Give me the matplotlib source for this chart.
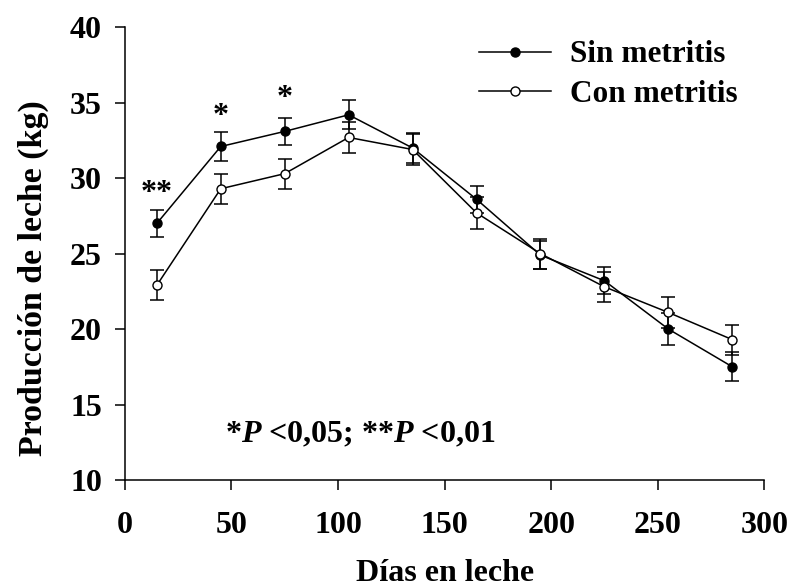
import matplotlib
matplotlib.use("Agg")
import matplotlib.pyplot as plt

plt.rcParams['font.family'] = ['Liberation Serif', 'DejaVu Serif']
plt.rcParams['font.weight'] = 'bold'
plt.rcParams['mathtext.fontset'] = 'custom'
plt.rcParams['mathtext.rm'] = 'Liberation Serif:bold'
plt.rcParams['mathtext.it'] = 'Liberation Serif:italic:bold'

# days in milk
dias = [15, 45, 75, 105, 135, 165, 195, 225, 255, 285]
# milk yield, kg
sin_metritis = [27.0, 32.1, 33.1, 34.2, 32.0, 28.6, 24.9, 23.2, 20.0, 17.5]
sin_err = [0.9, 0.95, 0.9, 0.95, 1.0, 0.9, 0.95, 0.9, 1.05, 0.95]
con_metritis = [22.9, 29.3, 30.3, 32.7, 31.9, 27.7, 25.0, 22.8, 21.1, 19.3]
con_err = [1.0, 1.0, 1.0, 1.05, 1.0, 1.05, 1.0, 1.0, 1.0, 1.0]

# significance marks above points
sig_x = [15, 45, 75]
sig_txt = ['**', '*', '*']
sig_y = [29.0, 34.1, 35.3]

fig = plt.figure(figsize=(7.9, 5.88), dpi=100)
ax = fig.add_axes([0.158, 0.1837, 0.8095, 0.7699])

ax.errorbar(dias, sin_metritis, yerr=sin_err, color='black', lw=1.1,
            marker='o', ms=7.5, mfc='black', mec='black', capsize=5,
            elinewidth=1.1, capthick=1.1, label='Sin metritis', zorder=3)
ax.errorbar(dias, con_metritis, yerr=con_err, color='black', lw=1.1,
            marker='o', ms=7.5, mfc='white', mec='black', capsize=5,
            elinewidth=1.1, capthick=1.1, label='Con metritis', zorder=4)

for x, t, y in zip(sig_x, sig_txt, sig_y):
    ax.text(x, y, t, ha='center', va='center', fontsize=23, fontweight='bold')

ax.text(110.5, 13.0, r'*$P$ <0,05; **$P$ <0,01', ha='center', va='center',
        fontsize=23, fontweight='bold')

ax.set_xlim(0, 300)
ax.set_ylim(10, 40)
ax.set_xticks(range(0, 301, 50))
ax.set_yticks(range(10, 41, 5))
ax.spines['top'].set_visible(False)
ax.spines['right'].set_visible(False)
ax.spines['left'].set_linewidth(1.1)
ax.spines['bottom'].set_linewidth(1.1)
ax.tick_params(direction='out', length=7, width=1.1, labelsize=23)
ax.tick_params(axis='y', pad=9.5)
ax.tick_params(axis='x', pad=15.5)
for lab in ax.get_xticklabels() + ax.get_yticklabels():
    lab.set_fontweight('bold')

ax.set_xlabel('Días en leche', fontsize=23, fontweight='bold', labelpad=13.5)
ax.set_ylabel('Producción de leche (kg)', fontsize=24.4, fontweight='bold', labelpad=15)
ax.yaxis.label.set_y(0.446)

handles, labels = ax.get_legend_handles_labels()
handles = [h[0] for h in handles]
for h in handles:
    h.set_markersize(6.5)
leg = ax.legend(handles, labels, loc='upper right', frameon=False, fontsize=22.5,
                handlelength=2.3, handletextpad=0.6, labelspacing=0.33,
                bbox_to_anchor=(1.002, 1.033))

fig.savefig('out.png', dpi=100)
